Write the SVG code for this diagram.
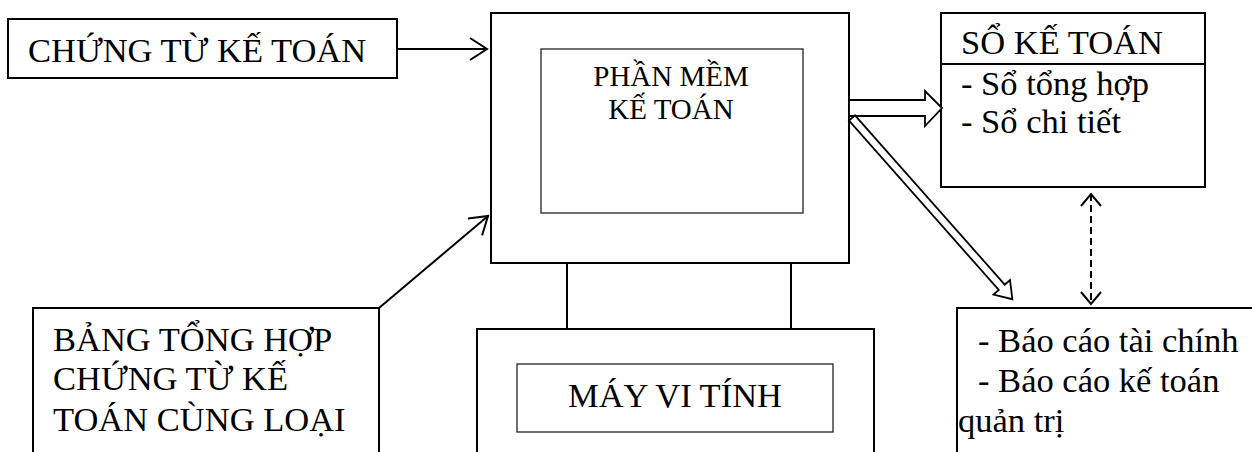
<svg xmlns="http://www.w3.org/2000/svg" width="1252" height="452" viewBox="0 0 1252 452">
  <style>
    .box { fill: #fff; stroke: #000; stroke-width: 2; }
    .inner { fill: #fff; stroke: #333; stroke-width: 1.4; }
    .t { font-family: "Liberation Serif", "Times New Roman", serif; fill: #000; }
    .big { font-size: 34.5px; }
    .mid { font-size: 29px; }
    .wire { fill: none; stroke: #000; stroke-width: 2; }
    .dash { fill: none; stroke: #000; stroke-width: 2; stroke-dasharray: 7 4; }
    .hollow { fill: #fff; stroke: #000; stroke-width: 1.8; stroke-linejoin: miter; }
  </style>
  <defs>
    <marker id="open" markerUnits="userSpaceOnUse" markerWidth="24" markerHeight="26" refX="18" refY="12" orient="auto-start-reverse" viewBox="0 0 24 26">
      <path d="M1,1 L18,12 L1,23" fill="none" stroke="#000" stroke-width="2"/>
    </marker>
    <marker id="openSmall" markerUnits="userSpaceOnUse" markerWidth="16" markerHeight="24" refX="13" refY="11" orient="auto-start-reverse" viewBox="0 0 16 24">
      <path d="M1,1 L13,11 L1,21" fill="none" stroke="#000" stroke-width="2"/>
    </marker>
  </defs>

  <g id="chung-tu">
    <rect class="box" x="8" y="19" width="389" height="59"/>
    <text class="t big" x="28" y="62">CHỨNG TỪ KẾ TOÁN</text>
  </g>

  <g id="man-hinh">
    <rect class="box" x="491" y="13" width="358" height="250"/>
    <rect class="inner" x="541" y="49" width="262" height="164"/>
    <text class="t mid" x="671" y="86" text-anchor="middle">PHẦN MỀM</text>
    <text class="t mid" x="671" y="119" text-anchor="middle">KẾ TOÁN</text>
  </g>

  <g id="chan-de">
    <line class="wire" x1="567" y1="263" x2="567" y2="329"/>
    <line class="wire" x1="791" y1="263" x2="791" y2="329"/>
  </g>

  <g id="may-vi-tinh">
    <rect class="box" x="477" y="329" width="397" height="130"/>
    <rect class="inner" x="517" y="364" width="316" height="68"/>
    <text class="t big" x="675" y="407" text-anchor="middle">MÁY VI TÍNH</text>
  </g>

  <g id="so-ke-toan">
    <rect class="box" x="941" y="13" width="264" height="174"/>
    <line class="wire" x1="941" y1="64" x2="1205" y2="64"/>
    <text class="t big" x="961" y="54">SỔ KẾ TOÁN</text>
    <text class="t big" x="961" y="95">- Sổ tổng hợp</text>
    <text class="t big" x="961" y="133">- Sổ chi tiết</text>
  </g>

  <g id="bang-tong-hop">
    <rect class="box" x="33" y="308" width="346" height="160"/>
    <text class="t big" x="53" y="351">BẢNG TỔNG HỢP</text>
    <text class="t big" x="53" y="390">CHỨNG TỪ KẾ</text>
    <text class="t big" x="53" y="431">TOÁN CÙNG LOẠI</text>
  </g>

  <g id="bao-cao">
    <rect class="box" x="957" y="308" width="310" height="160"/>
    <text class="t big" x="978" y="352">- Báo cáo tài chính</text>
    <text class="t big" x="978" y="392">- Báo cáo kế toán</text>
    <text class="t big" x="958" y="432">quản trị</text>
  </g>

  <g id="connectors">
    <line class="wire" x1="397" y1="49" x2="487" y2="49" marker-end="url(#open)"/>
    <line class="wire" x1="379" y1="308" x2="488" y2="216" marker-end="url(#open)"/>
    <polygon class="hollow" points="849,100 925,100 925,91 942,108 925,126 925,116 849,116"/>
    <polygon class="hollow" transform="translate(852,118) rotate(48.5)" points="0,-4 226,-4 226,-11 242,0 226,11 226,4 0,4"/>
    <line class="dash" x1="1091" y1="194" x2="1091" y2="304" marker-start="url(#openSmall)" marker-end="url(#openSmall)"/>
  </g>
</svg>
